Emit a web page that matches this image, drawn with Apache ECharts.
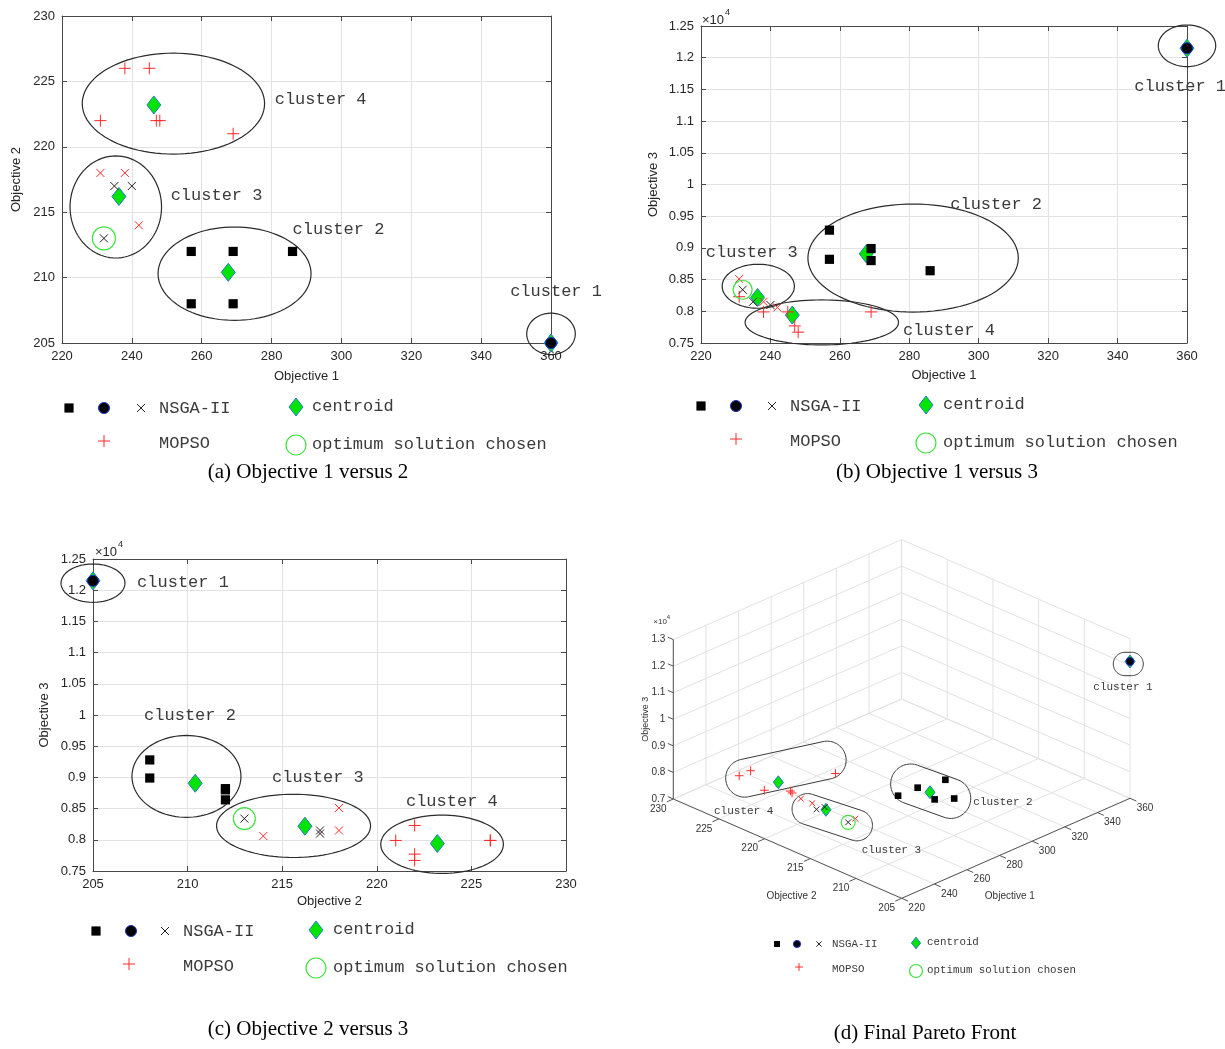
<!DOCTYPE html>
<html>
<head>
<meta charset="utf-8">
<script src="https://cdn.jsdelivr.net/npm/echarts@6/dist/echarts.min.js"></script>
<style>
html,body{margin:0;padding:0;background:#fff;}
#chart{width:1225px;height:1049px;}
</style>
</head>
<body>
<div id="chart"></div>
<script>
// Pareto-front solutions: [Objective 1, Objective 2, Objective 3]
const nsgaSquares = [[257, 208, 9280], [257, 212, 8820], [269, 208, 8990], [269, 212, 8800], [286, 212, 8640]];
const nsgaCircles = [[360, 205, 12150]];
const nsgaCrosses = [[235, 217, 8150], [240, 217, 8100]];
const optimumChosen = [[232, 213, 8340]];
const mopsoCrosses = [[231, 218, 8510], [238, 218, 8150], [242, 214, 8060]];
const mopsoPlus = [[238, 226, 7990], [245, 226, 7990], [231, 222, 8230], [247, 222, 7770], [248, 222, 7670], [269, 221, 7990]];
const centroids = [[360, 205, 12150], [267.6, 210.4, 8906], [236.3, 216.2, 8218], [246.3, 223.2, 7940]];
const clusterNames = ['cluster 1', 'cluster 2', 'cluster 3', 'cluster 4'];

// tick values
const obj1Ticks = [220, 240, 260, 280, 300, 320, 340, 360];
const obj2Ticks = [205, 210, 215, 220, 225, 230];
const obj3Ticks2d = [7500, 8000, 8500, 9000, 9500, 10000, 10500, 11000, 11500, 12000, 12500];
const obj3Ticks3d = [7000, 8000, 9000, 10000, 11000, 12000, 13000];

// cluster outlines (ellipses in data units: cx, cy, rx, ry) and label anchors
const outlineA = [[360, 205.7, 6.95, 1.58], [269.4, 210.3, 21.9, 3.57], [235.4, 215.4, 13.1, 3.9], [251.9, 223.3, 26.1, 3.86]];
const labelA = [[348.3, 208.9], [286.0, 213.7], [251.1, 216.3], [280.9, 223.65]];
const outlineB = [[360, 12188, 8.27, 328], [281.1, 8840, 30.3, 852], [236.5, 8395, 10.4, 347], [254.8, 7824, 22.1, 355]];
const labelB = [[344.8, 11538], [291.8, 9677], [221.4, 8920], [278.2, 7690]];
const outlineC = [[205, 12113, 1.69, 307], [209.94, 9016, 2.88, 656], [215.6, 8223, 4.07, 507], [223.45, 7928, 3.24, 467]];
const labelC = [[207.33, 12116], [207.7, 9988], [214.46, 8996], [221.54, 8612]];

// 3-D view: screen vectors (px) for full range of each objective
const VIEW = { ax: 228.3, ay: -100, bx: 228.4, by: 99.3, cz: 159.4, unit: 228.35 };
const R1 = [220, 360], R2 = [205, 230], R3 = [7000, 13000];
function proj(o1, o2, o3) {
  const u = (o1 - R1[0]) / (R1[1] - R1[0]);
  const v = (R2[1] - o2) / (R2[1] - R2[0]);
  const w = (o3 - R3[0]) / (R3[1] - R3[0]);
  const X = (VIEW.ax * u + VIEW.bx * v) / VIEW.unit;
  const Y = (-VIEW.ay * u - VIEW.by * v + VIEW.cz * w) / VIEW.unit;
  return [X, Y];
}
// rounded outlines in the 3-D view: [dx, dy, halfLength, radius, angleDeg] relative to the projected centroid
const outlineD = [[-1.7, 2.5, 15, 11.7, 0], [0.7, -1, 41.3, 20, 19.8], [6.3, 7.4, 41.5, 15.5, 18.2], [7.6, -13.1, 61.2, 19, -12.3]];
const labelD = [[-7, 26], [73, 9.5], [65.5, 40], [-34.6, 28.7]];

const MONO = '"Liberation Mono", "DejaVu Sans Mono", monospace';
const SANS = '"Liberation Sans", Arial, sans-serif';
const SERIF = '"Liberation Serif", "Times New Roman", serif';
const TEXT_C = '#2e2e2e';
const AXIS_C = '#484848';
const GRID_C = '#e2e2e2';

function seg(x1, y1, x2, y2, c, w) {
  return { type: 'line', shape: { x1: x1, y1: y1, x2: x2, y2: y2 }, style: { stroke: c, lineWidth: w || 1 } };
}
function txt(t, x, y, font, align, valign, fill, rot) {
  const el = { type: 'text', x: x, y: y, style: { text: t, font: font, fill: fill || TEXT_C,
    align: align || 'left', textAlign: align || 'left', verticalAlign: valign || 'middle', textVerticalAlign: valign || 'middle' } };
  if (rot) el.rotation = rot;
  return el;
}
function drawMarker(type, x, y, s, ringR) {
  switch (type) {
    case 'square': { const h = 4.6 * s; return { type: 'rect', shape: { x: x - h, y: y - h, width: 2 * h, height: 2 * h }, style: { fill: '#000' } }; }
    case 'circle': return { type: 'circle', shape: { cx: x, cy: y, r: 5.5 * s }, style: { fill: '#000', stroke: '#1a2fc0', lineWidth: 1 } };
    case 'cross':
    case 'crossRed': {
      const h = 4 * s, c = type === 'cross' ? '#222' : '#ff2a2a';
      return { type: 'group', children: [seg(x - h, y - h, x + h, y + h, c), seg(x - h, y + h, x + h, y - h, c)] };
    }
    case 'plus': {
      const h = 6 * s, c = '#ff2a2a';
      return { type: 'group', children: [seg(x - h, y, x + h, y, c), seg(x, y - h, x, y + h, c)] };
    }
    case 'diamond': {
      const w = 7 * s, h = 9 * s;
      return { type: 'polygon', shape: { points: [[x, y - h], [x + w, y], [x, y + h], [x - w, y]] }, style: { fill: '#00e400', stroke: '#2a78d0', lineWidth: 1 } };
    }
    case 'ring': return { type: 'circle', shape: { cx: x, cy: y, r: ringR }, style: { fill: 'none', stroke: '#3de23d', lineWidth: 1.2 } };
  }
}

// ---------- 2-D panels ----------
const panels = [
  { grid: { left: 62, top: 16, width: 489, height: 327 }, dims: [0, 1], xr: [220, 360, 20], yr: [205, 230, 5],
    xName: 'Objective 1', yName: 'Objective 2', xGap: 27, yGap: 39, yFmt: v => String(v), outline: outlineA, label: labelA, ring: 11.5 },
  { grid: { left: 701, top: 26, width: 486, height: 317 }, dims: [0, 2], xr: [220, 360, 20], yr: [7500, 12500, 500],
    xName: 'Objective 1', yName: 'Objective 3', xGap: 26, yGap: 41, yFmt: v => String(+(v / 10000).toFixed(2)), outline: outlineB, label: labelB, ring: 9.5 },
  { grid: { left: 93, top: 559, width: 473, height: 312 }, dims: [1, 2], xr: [205, 230, 5], yr: [7500, 12500, 500],
    xName: 'Objective 2', yName: 'Objective 3', xGap: 24, yGap: 42, yFmt: v => String(+(v / 10000).toFixed(2)), outline: outlineC, label: labelC, ring: 11 }
];

const grids = [], xAxes = [], yAxes = [], series = [];
const lineStyle = { color: AXIS_C, width: 1 };

panels.forEach((p, i) => {
  grids.push(p.grid);
  const labelStyle = { fontSize: 13, color: '#262626', fontFamily: SANS };
  xAxes.push({ gridIndex: i, type: 'value', min: p.xr[0], max: p.xr[1], interval: p.xr[2], position: 'bottom',
    axisLine: { show: true, onZero: false, lineStyle: lineStyle }, axisTick: { inside: true, length: 5, lineStyle: lineStyle },
    axisLabel: Object.assign({ margin: 7 }, labelStyle), splitLine: { show: true, lineStyle: { color: GRID_C } },
    name: p.xName, nameLocation: 'middle', nameGap: p.xGap, nameTextStyle: labelStyle });
  xAxes.push({ gridIndex: i, type: 'value', min: p.xr[0], max: p.xr[1], interval: p.xr[2], position: 'top',
    axisLine: { show: true, onZero: false, lineStyle: lineStyle }, axisTick: { inside: true, length: 5, lineStyle: lineStyle },
    axisLabel: { show: false }, splitLine: { show: false } });
  yAxes.push({ gridIndex: i, type: 'value', min: p.yr[0], max: p.yr[1], interval: p.yr[2], position: 'left',
    axisLine: { show: true, onZero: false, lineStyle: lineStyle }, axisTick: { inside: true, length: 5, lineStyle: lineStyle },
    axisLabel: Object.assign({ margin: 7, formatter: p.yFmt }, labelStyle), splitLine: { show: true, lineStyle: { color: GRID_C } },
    name: p.yName, nameLocation: 'middle', nameGap: p.yGap, nameTextStyle: labelStyle });
  yAxes.push({ gridIndex: i, type: 'value', min: p.yr[0], max: p.yr[1], interval: p.yr[2], position: 'right',
    axisLine: { show: true, onZero: false, lineStyle: lineStyle }, axisTick: { inside: true, length: 5, lineStyle: lineStyle },
    axisLabel: { show: false }, splitLine: { show: false } });

  const xi = 2 * i, yi = 2 * i;
  const base = { type: 'custom', coordinateSystem: 'cartesian2d', xAxisIndex: xi, yAxisIndex: yi, silent: true, clip: false, animation: false };
  const pick = arr => arr.map(q => [q[p.dims[0]], q[p.dims[1]]]);

  // cluster outlines
  series.push(Object.assign({}, base, { data: p.outline, z: 2, renderItem: (params, api) => {
    const c = api.coord([api.value(0), api.value(1)]);
    const s = api.size([api.value(2), api.value(3)]);
    const pts = [];
    for (let k = 0; k < 96; k++) { const t = k / 96 * Math.PI * 2; pts.push([c[0] + s[0] * Math.cos(t), c[1] + s[1] * Math.sin(t)]); }
    return { type: 'polygon', shape: { points: pts }, style: { fill: 'none', stroke: '#2b2b2b', lineWidth: 1.2 } };
  } }));
  // cluster names
  series.push(Object.assign({}, base, { data: p.label, z: 3, renderItem: (params, api) => {
    const c = api.coord([api.value(0), api.value(1)]);
    return txt(clusterNames[params.dataIndex], c[0], c[1], '17px ' + MONO, 'left', 'middle', '#3a3a3a');
  } }));
  const markerSeries = (type, arr, z) => series.push(Object.assign({}, base, { data: pick(arr), z: z, renderItem: (params, api) => {
    const c = api.coord([api.value(0), api.value(1)]);
    return drawMarker(type, c[0], c[1], 1, p.ring);
  } }));
  markerSeries('diamond', centroids, 4);
  markerSeries('square', nsgaSquares, 5);
  markerSeries('cross', nsgaCrosses, 5);
  markerSeries('crossRed', mopsoCrosses, 5);
  markerSeries('plus', mopsoPlus, 5);
  markerSeries('circle', nsgaCircles, 6);
  markerSeries('cross', optimumChosen, 6);
  markerSeries('ring', optimumChosen, 6);
});

// ---------- 3-D panel (projected onto a hidden cartesian grid) ----------
const yMin3 = -VIEW.by / VIEW.unit, yMax3 = (-VIEW.ay + VIEW.cz) / VIEW.unit;
grids.push({ left: 673.3, top: 539.6, width: 456.7, height: 358.7 });
xAxes.push({ gridIndex: 3, type: 'value', min: 0, max: (VIEW.ax + VIEW.bx) / VIEW.unit, show: false });
yAxes.push({ gridIndex: 3, type: 'value', min: yMin3, max: yMax3, show: false });
const base3 = { type: 'custom', coordinateSystem: 'cartesian2d', xAxisIndex: 6, yAxisIndex: 6, silent: true, clip: false, animation: false };

series.push(Object.assign({}, base3, { data: [[0, 0]], z: 1, renderItem: (params, api) => {
  const P = (a, b, c) => api.coord(proj(a, b, c));
  const ch = [];
  const L = (p, q, c, w) => ch.push(seg(p[0], p[1], q[0], q[1], c, w));
  const f = '10px ' + SANS;
  // back walls and floor grid
  obj1Ticks.forEach(t => L(P(t, R2[1], R3[0]), P(t, R2[1], R3[1]), GRID_C));
  obj3Ticks3d.forEach(t => L(P(R1[0], R2[1], t), P(R1[1], R2[1], t), GRID_C));
  obj2Ticks.forEach(t => L(P(R1[1], t, R3[0]), P(R1[1], t, R3[1]), GRID_C));
  obj3Ticks3d.forEach(t => L(P(R1[1], R2[0], t), P(R1[1], R2[1], t), GRID_C));
  obj1Ticks.forEach(t => L(P(t, R2[0], R3[0]), P(t, R2[1], R3[0]), GRID_C));
  obj2Ticks.forEach(t => L(P(R1[0], t, R3[0]), P(R1[1], t, R3[0]), GRID_C));
  // axis lines
  L(P(R1[0], R2[1], R3[0]), P(R1[0], R2[1], R3[1]), '#555');
  L(P(R1[0], R2[1], R3[0]), P(R1[0], R2[0], R3[0]), '#555');
  L(P(R1[0], R2[0], R3[0]), P(R1[1], R2[0], R3[0]), '#555');
  // ticks and tick labels
  obj3Ticks3d.forEach(t => {
    const a = P(R1[0], R2[1], t), b = P(R1[0], R2[1] + 0.6, t);
    L(a, b, '#555');
    ch.push(txt(String(+(t / 10000).toFixed(2)), a[0] - 8, a[1], f, 'right', 'middle', '#333'));
  });
  obj2Ticks.forEach(t => {
    const a = P(R1[0], t, R3[0]), b = P(R1[0] - 4, t, R3[0]);
    L(a, b, '#555');
    ch.push(txt(String(t), a[0] - 15, a[1] + 10, f, 'center', 'middle', '#333'));
  });
  obj1Ticks.forEach(t => {
    const a = P(t, R2[0], R3[0]), b = P(t, R2[0] - 0.7, R3[0]);
    L(a, b, '#555');
    ch.push(txt(String(t), a[0] + 15, a[1] + 10, f, 'center', 'middle', '#333'));
  });
  const top = P(R1[0], R2[1], R3[1]);
  ch.push(txt('×10', top[0] - 20, top[1] - 18, '8px ' + SANS, 'left', 'middle', '#333'));
  ch.push(txt('4', top[0] - 6.5, top[1] - 22, '6px ' + SANS, 'left', 'middle', '#333'));
  const m3 = P(R1[0], R2[1], (R3[0] + R3[1]) / 2);
  ch.push(txt('Objective 3', m3[0] - 28, m3[1], '9px ' + SANS, 'center', 'middle', '#333', Math.PI / 2));
  const m2 = P(R1[0], (R2[0] + R2[1]) / 2, R3[0]);
  ch.push(txt('Objective 2', m2[0] + 4, m2[1] + 48, '10px ' + SANS, 'center', 'middle', '#333'));
  const m1 = P((R1[0] + R1[1]) / 2, R2[0], R3[0]);
  ch.push(txt('Objective 1', m1[0] - 6, m1[1] + 48, '10px ' + SANS, 'center', 'middle', '#333'));
  return { type: 'group', children: ch };
} }));

// rounded cluster outlines and names around projected centroids
series.push(Object.assign({}, base3, { data: centroids.map(q => proj(q[0], q[1], q[2])), z: 2, renderItem: (params, api) => {
  const c = api.coord([api.value(0), api.value(1)]);
  const o = outlineD[params.dataIndex], lb = labelD[params.dataIndex];
  const cx = c[0] + o[0], cy = c[1] + o[1], hl = o[2], r = o[3], a = o[4] * Math.PI / 180;
  const dx = Math.cos(a), dy = Math.sin(a), e = hl - r;
  const pts = [];
  for (let k = 0; k <= 40; k++) { const t = a - Math.PI / 2 + Math.PI * k / 40; pts.push([cx + e * dx + r * Math.cos(t), cy + e * dy + r * Math.sin(t)]); }
  for (let k = 0; k <= 40; k++) { const t = a + Math.PI / 2 + Math.PI * k / 40; pts.push([cx - e * dx + r * Math.cos(t), cy - e * dy + r * Math.sin(t)]); }
  return { type: 'group', children: [
    { type: 'polygon', shape: { points: pts }, style: { fill: 'none', stroke: '#3a3a3a', lineWidth: 1 } },
    txt(clusterNames[params.dataIndex], c[0] + lb[0], c[1] + lb[1], '11px ' + MONO, 'center', 'middle', '#3a3a3a')
  ] };
} }));
const marker3 = (type, arr, z) => series.push(Object.assign({}, base3, { data: arr.map(q => proj(q[0], q[1], q[2])), z: z, renderItem: (params, api) => {
  const c = api.coord([api.value(0), api.value(1)]);
  return drawMarker(type, c[0], c[1], 0.72, 7);
} }));
marker3('diamond', centroids, 4);
marker3('square', nsgaSquares, 5);
marker3('cross', nsgaCrosses, 5);
marker3('crossRed', mopsoCrosses, 5);
marker3('plus', mopsoPlus, 5);
marker3('circle', nsgaCircles, 6);
marker3('cross', optimumChosen, 6);
marker3('ring', optimumChosen, 6);

// ---------- legends, exponent labels and captions ----------
function legend(cfg) {
  const s = cfg.s, f = cfg.fs + 'px ' + MONO, out = [];
  out.push(drawMarker('square', cfg.sq, cfg.y1, s));
  out.push(drawMarker('circle', cfg.ci, cfg.y1, s));
  out.push(drawMarker('cross', cfg.cr, cfg.y1, s));
  out.push(txt('NSGA-II', cfg.t1, cfg.y1, f, 'left', 'middle', '#3a3a3a'));
  out.push(drawMarker('diamond', cfg.di, cfg.y1 - 1, s));
  out.push(txt('centroid', cfg.t2, cfg.y1 - 2, f, 'left', 'middle', '#3a3a3a'));
  out.push(drawMarker('plus', cfg.pl, cfg.y2 - 2, s));
  out.push(txt('MOPSO', cfg.t1, cfg.y2, f, 'left', 'middle', '#3a3a3a'));
  out.push(drawMarker('ring', cfg.di, cfg.y2 + 2, s, cfg.rr));
  out.push(txt('optimum solution chosen', cfg.t2, cfg.y2 + 1, f, 'left', 'middle', '#3a3a3a'));
  return out;
}
const graphics = []
  .concat(legend({ sq: 69, ci: 104, cr: 141, t1: 159, di: 296, t2: 312, pl: 104, y1: 408, y2: 443, s: 1, rr: 10, fs: 17 }))
  .concat(legend({ sq: 701, ci: 736, cr: 772, t1: 790, di: 926, t2: 943, pl: 736, y1: 406, y2: 441, s: 1, rr: 10, fs: 17 }))
  .concat(legend({ sq: 96, ci: 131, cr: 165, t1: 183, di: 316, t2: 333, pl: 129, y1: 931, y2: 966, s: 1, rr: 10, fs: 17 }))
  .concat(legend({ sq: 777, ci: 797, cr: 819, t1: 832, di: 916, t2: 927, pl: 799, y1: 944, y2: 969, s: 0.65, rr: 6.5, fs: 10.8 }));
graphics.push(txt('×10', 702, 20, '13px ' + SANS, 'left', 'middle', '#262626'));
graphics.push(txt('4', 725, 13, '9px ' + SANS, 'left', 'middle', '#262626'));
graphics.push(txt('×10', 95, 552, '13px ' + SANS, 'left', 'middle', '#262626'));
graphics.push(txt('4', 118, 545, '9px ' + SANS, 'left', 'middle', '#262626'));
graphics.push(txt('(a) Objective 1 versus 2', 308, 472, '21px ' + SERIF, 'center', 'middle', '#000'));
graphics.push(txt('(b) Objective 1 versus 3', 937, 472, '21px ' + SERIF, 'center', 'middle', '#000'));
graphics.push(txt('(c) Objective 2 versus 3', 308, 1029, '21px ' + SERIF, 'center', 'middle', '#000'));
graphics.push(txt('(d) Final Pareto Front', 925, 1033, '21px ' + SERIF, 'center', 'middle', '#000'));

const chart = echarts.init(document.getElementById('chart'), null, { renderer: 'canvas' });
chart.setOption({
  animation: false,
  backgroundColor: '#fff',
  grid: grids,
  xAxis: xAxes,
  yAxis: yAxes,
  series: series,
  graphic: { elements: graphics.map(g => Object.assign({ silent: true }, g)) }
});
</script>
</body>
</html>
